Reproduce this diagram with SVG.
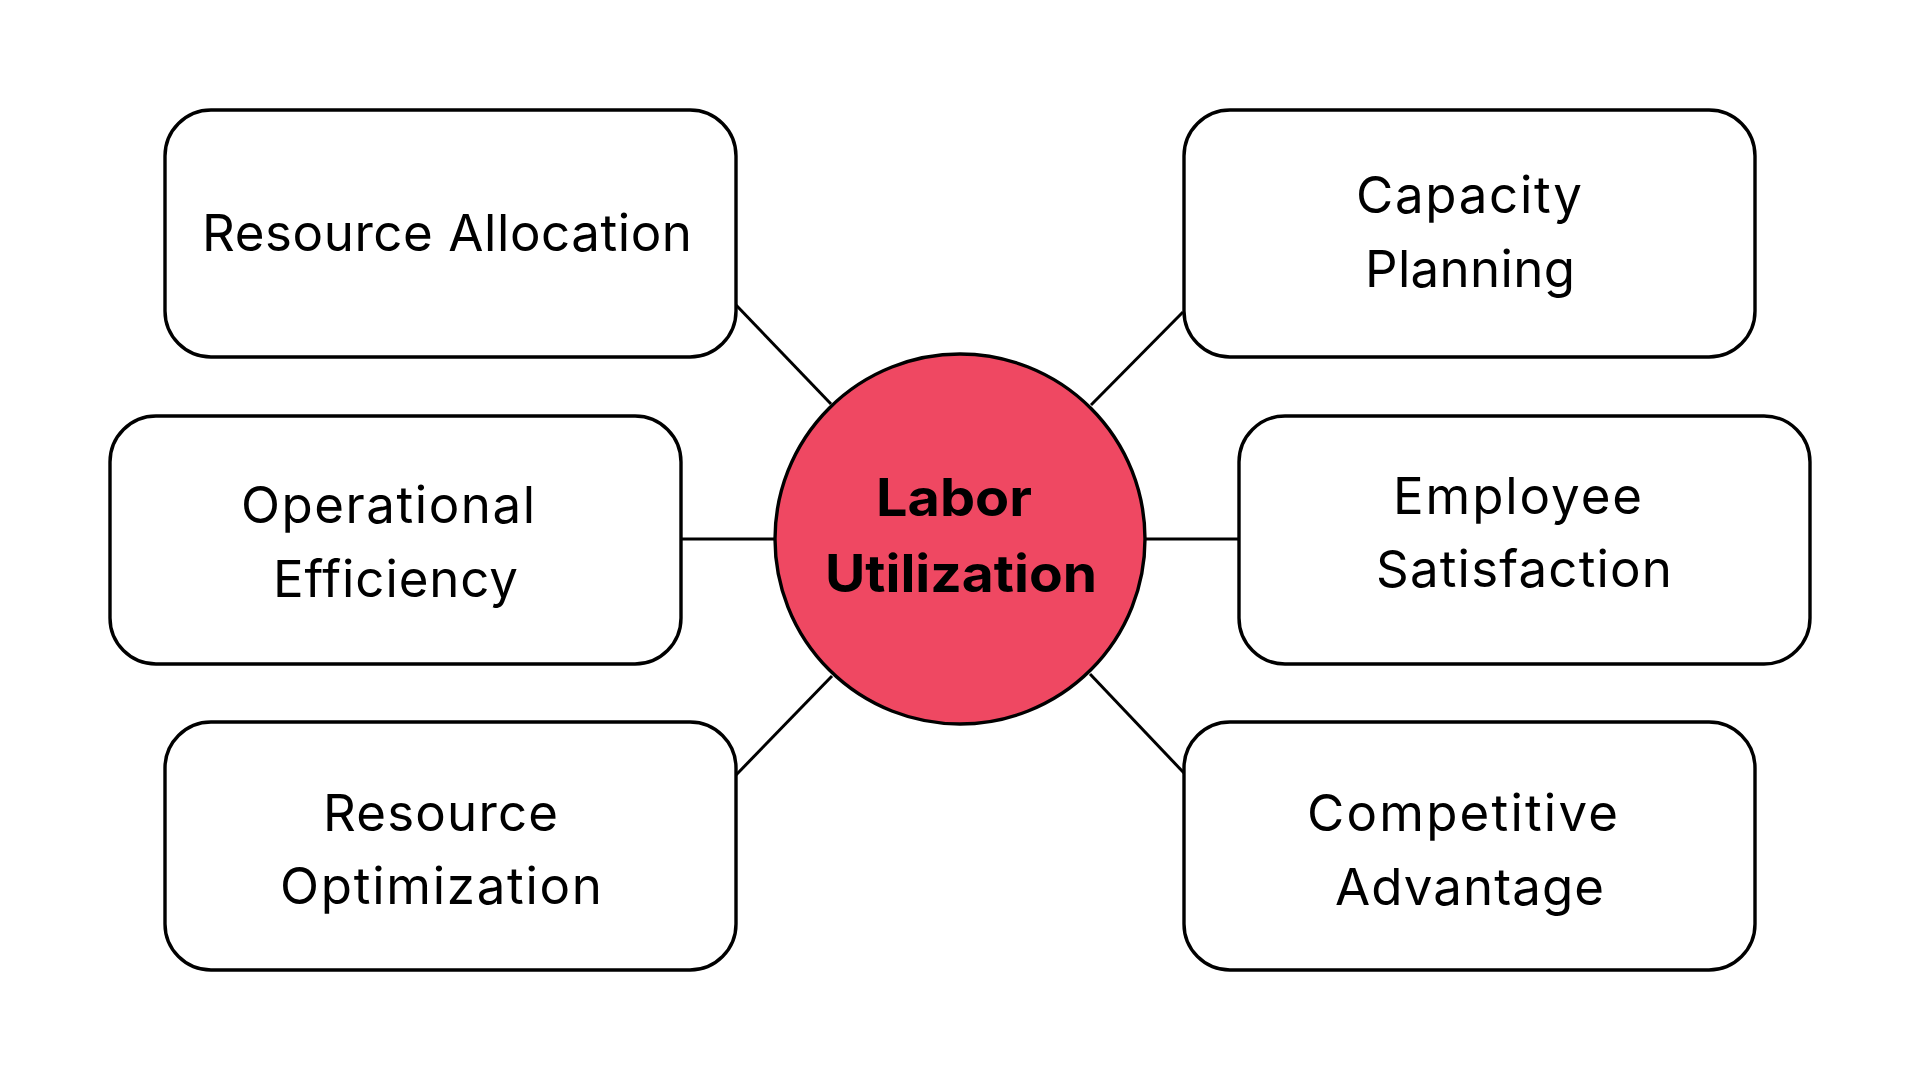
<svg xmlns="http://www.w3.org/2000/svg" width="1920" height="1080" viewBox="0 0 1920 1080">
<style>
.box{fill:#ffffff;stroke:#000000;stroke-width:3.4}
.lbl{font-family:Inter,"Liberation Sans",sans-serif;font-size:51px;fill:#000000;text-anchor:middle}
.hub{fill:#EF4862;stroke:#000000;stroke-width:3.4}
.hubtxt{font-family:Inter,"Liberation Sans",sans-serif;font-size:52px;font-weight:700;fill:#000000;text-anchor:middle}
.conn line{stroke:#000000;stroke-width:3}
</style>
<rect width="1920" height="1080" fill="#ffffff"/>
<g id="connectors" class="conn">
<line x1="736" y1="305" x2="831" y2="404"/>
<line x1="1183" y1="312" x2="1091" y2="405"/>
<line x1="681" y1="539" x2="775" y2="539"/>
<line x1="1145" y1="539" x2="1239" y2="539"/>
<line x1="736" y1="775" x2="832" y2="676"/>
<line x1="1184" y1="773" x2="1090" y2="674"/>
</g>
<g id="hub">
<circle class="hub" cx="960" cy="539" r="185"/>
<text class="hubtxt" x="954" y="516" textLength="156" lengthAdjust="spacingAndGlyphs">Labor</text>
<text class="hubtxt" x="961" y="592" textLength="272" lengthAdjust="spacingAndGlyphs">Utilization</text>
</g>
<g id="resource-allocation">
<rect class="box" x="165" y="110" width="571" height="247" rx="46"/>
<text class="lbl" x="447" y="251" textLength="490">Resource Allocation</text>
</g>
<g id="capacity-planning">
<rect class="box" x="1184" y="110" width="571" height="247" rx="46"/>
<text class="lbl" x="1469" y="213" textLength="226">Capacity</text>
<text class="lbl" x="1470" y="287" textLength="210">Planning</text>
</g>
<g id="operational-efficiency">
<rect class="box" x="110" y="416" width="571" height="248" rx="46"/>
<text class="lbl" x="388" y="523" textLength="294">Operational</text>
<text class="lbl" x="395.5" y="597" textLength="245">Efficiency</text>
</g>
<g id="employee-satisfaction">
<rect class="box" x="1239" y="416" width="571" height="248" rx="46"/>
<text class="lbl" x="1517.5" y="514" textLength="249">Employee</text>
<text class="lbl" x="1524" y="587" textLength="296">Satisfaction</text>
</g>
<g id="resource-optimization">
<rect class="box" x="165" y="722" width="571" height="248" rx="46"/>
<text class="lbl" x="440.5" y="831" textLength="235">Resource</text>
<text class="lbl" x="441" y="904" textLength="322">Optimization</text>
</g>
<g id="competitive-advantage">
<rect class="box" x="1184" y="722" width="571" height="248" rx="46"/>
<text class="lbl" x="1462.5" y="831" textLength="311">Competitive</text>
<text class="lbl" x="1469.5" y="905" textLength="269">Advantage</text>
</g>
</svg>
